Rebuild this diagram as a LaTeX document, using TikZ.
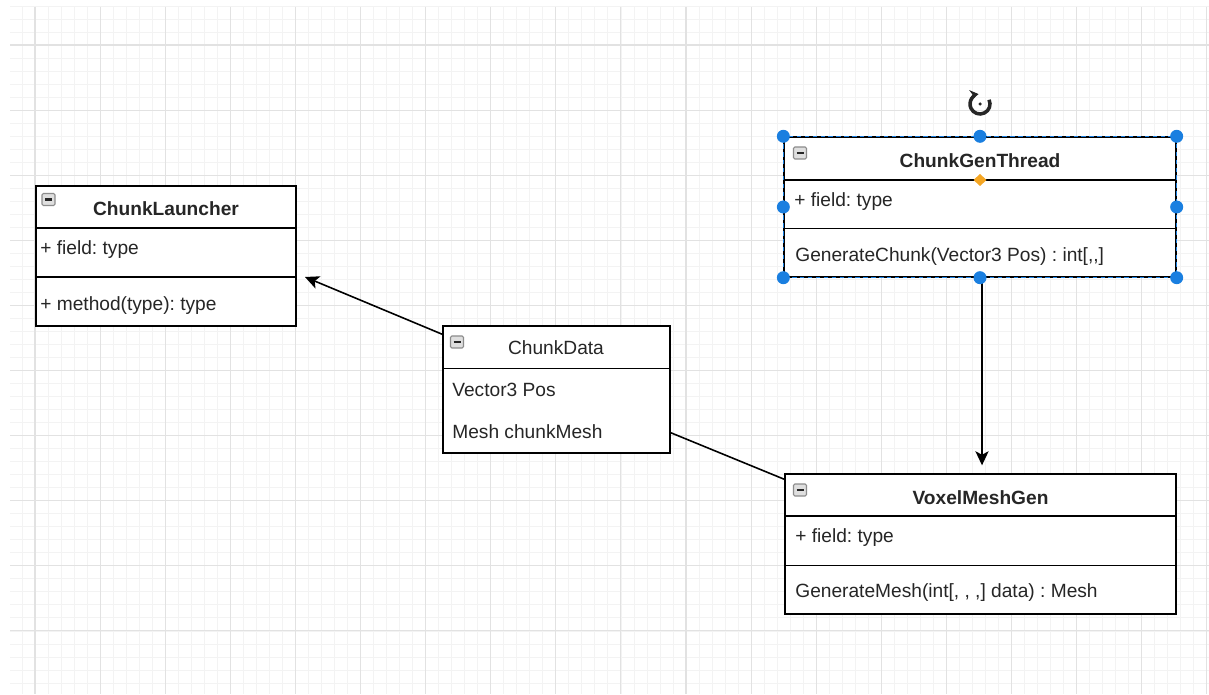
\documentclass[tikz,border=0pt]{standalone}
\usepackage{fontspec}
\setmainfont{Liberation Sans}
\usetikzlibrary{arrows.meta}
\frenchspacing

\definecolor{minorgrid}{HTML}{F3F3F3}
\definecolor{majorgrid}{HTML}{E2E2E2}
\definecolor{selblue}{HTML}{1A7FE0}
\definecolor{handleorange}{HTML}{F5A623}

\tikzset{
  classbox/.style={draw, line width=0.8pt, inner sep=0pt, fill=white},
  classname/.style={inner sep=0pt, text=black!85, font=\bfseries\fontsize{10.9}{13}\selectfont},
  member/.style={anchor=west, inner sep=0pt, text=black!85, font=\fontsize{10.9}{13}\selectfont},
  assoc/.style={line width=0.9pt, -{Stealth[length=8pt,width=7.5pt,inset=2pt]}},
  minorline/.style={draw=minorgrid, line width=0.45pt},
  majorline/.style={draw=majorgrid, line width=0.6pt},
  handle/.style={fill=selblue},
  minusicon/.pic={
    \draw[gray!90, fill=gray!25, line width=0.6pt, rounded corners=0.8pt] (-6.5,-6) rectangle (6.5,6);
    \draw[black!85, line width=1.3pt] (-3.5,0) -- (3.5,0);
  }
}

\begin{document}
\begin{tikzpicture}[x=0.02cm, y=-0.02cm]
  \useasboundingbox (0,0) rectangle (1209,695);

  % background grid
  \begin{scope}
    \clip (10,7) rectangle (1209,694);
    \foreach \i in {0,...,92} \draw[minorline] ({8.96+13.02*\i},7) -- ++(0,687);
    \foreach \j in {0,...,53} \draw[minorline] (10,{5.94+13.02*\j}) -- ++(1199,0);
    \foreach \i in {0,...,18} \draw[majorline] ({35+65.1*\i},7) -- ++(0,687);
    \foreach \j in {0,...,10} \draw[majorline] (10,{45+65.1*\j}) -- ++(1199,0);
  \end{scope}

  % classes
  \node[classbox, minimum width=5.2cm, minimum height=2.8cm] (launcher) at (166,256) {};
  \draw[line width=0.8pt] (36,228) -- (296,228) (36,277) -- (296,277);
  \pic at (48.5,199.5) {minusicon};
  \node[classname] (launcherName) at (166,209) {ChunkLauncher};
  \node[member] (launcherField) at (40,250) {+ field: type};
  \node[member] (launcherMethod) at (40,306) {+ method(type): type};

  \node[classbox, minimum width=4.54cm, minimum height=2.54cm] (data) at (556.5,389.5) {};
  \draw[line width=0.8pt] (443,368.5) -- (670,368.5);
  \pic at (457,342) {minusicon};
  \node[classname, font=\fontsize{10.9}{13}\selectfont] (dataName) at (556,348) {ChunkData};
  \node[member] (dataPos) at (452,390) {Vector3 Pos};
  \node[member] (dataMesh) at (452,432) {Mesh chunkMesh};

  \node[classbox, minimum width=7.84cm, minimum height=2.8cm] (genthread) at (980,207) {};
  \draw[line width=0.8pt] (784,180) -- (1176,180) (784,228.5) -- (1176,228.5);
  \pic at (800,153) {minusicon};
  \node[classname] (genthreadName) at (980,161) {ChunkGenThread};
  \node[member] (genthreadField) at (794,202) {+ field: type};
  \node[member] (genthreadMethod) at (795,257) {GenerateChunk(Vector3 Pos) : int[{,}{,}]};

  \node[classbox, minimum width=7.82cm, minimum height=2.8cm] (voxel) at (980.5,544) {};
  \draw[line width=0.8pt] (785,516) -- (1176,516) (785,565.5) -- (1176,565.5);
  \pic at (800,490) {minusicon};
  \node[classname] (voxelName) at (980.5,498) {VoxelMeshGen};
  \node[member] (voxelField) at (795,538) {+ field: type};
  \node[member] (voxelMethod) at (795,593) {GenerateMesh(int[, , ,] data) : Mesh};

  % connectors
  \coordinate (launcherTip) at (305,277);
  \draw[assoc] ([yshift=-0.18cm]data.north west) -- (launcherTip);
  \draw[line width=0.9pt] ([yshift=0.42cm]data.south east) -- ([yshift=-0.12cm]voxel.north west);
  \draw[assoc] ([xshift=0.04cm]genthread.south) -- ([xshift=0.03cm,yshift=0.16cm]voxel.north);

  % selection of ChunkGenThread
  \draw[selblue, line width=0.7pt, dash pattern=on 2.5pt off 2pt] (genthread.north west) rectangle (genthread.south east);
  \foreach \a in {north west, north, north east, west, east, south west, south, south east}
    \fill[handle] (genthread.\a) circle (0.13cm);
  \fill[handleorange] (980,174) -- (986.5,180) -- (980,186) -- (973.5,180) -- cycle;
  \draw[black!85, line width=2pt, -{Stealth[length=5pt,width=6pt]}]
    ([shift={(25:0.2cm)}]980,104) arc[start angle=25, end angle=-262, radius=0.2cm];
  \fill[black!85] (980,104) circle (0.035cm);
\end{tikzpicture}
\end{document}
